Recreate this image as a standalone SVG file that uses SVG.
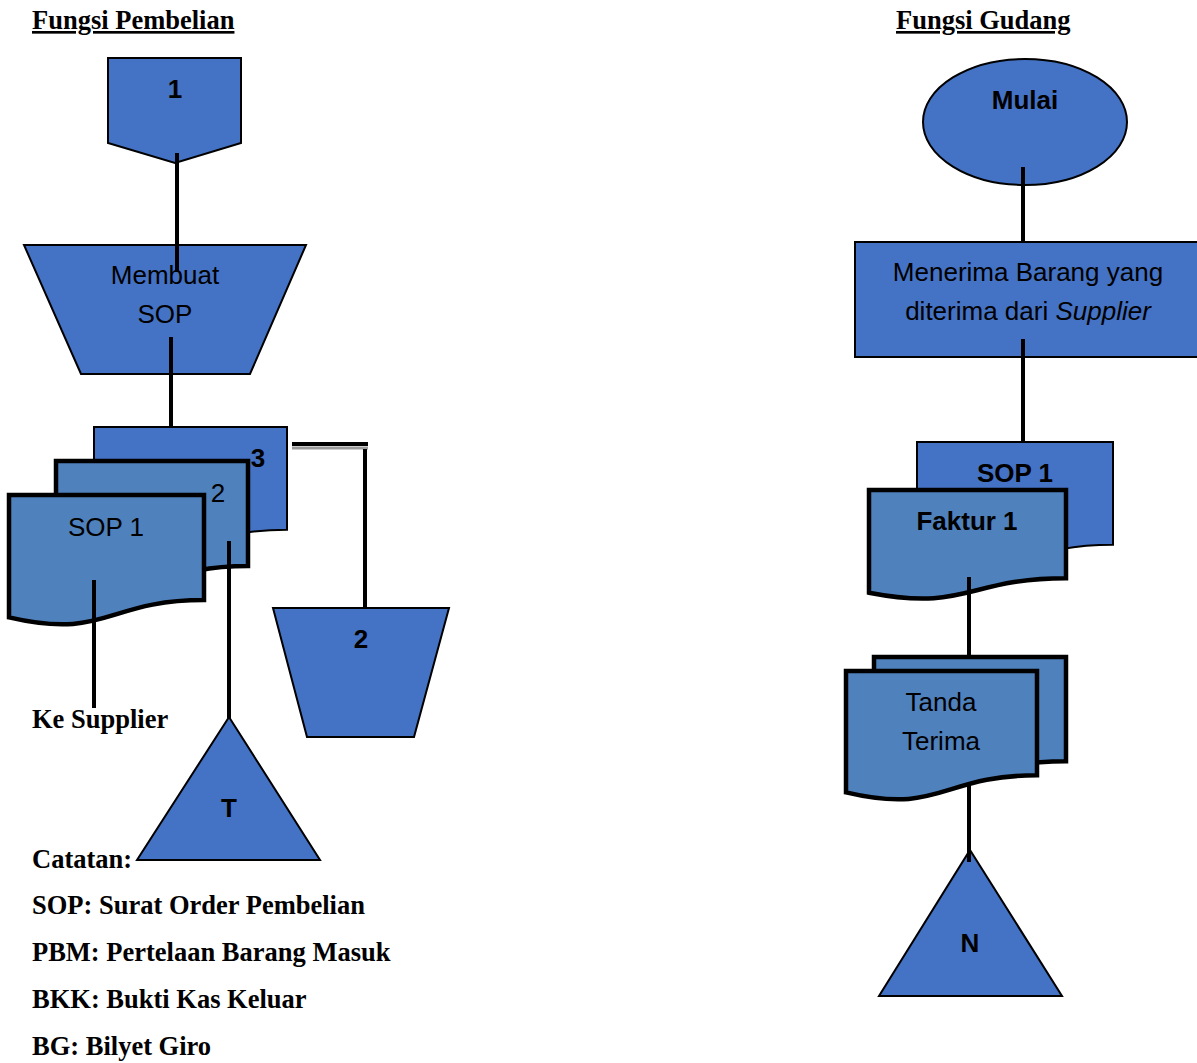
<svg xmlns="http://www.w3.org/2000/svg" width="1197" height="1063" viewBox="0 0 1197 1063">
<style>
.dk{fill:#4472C4;stroke:#000;stroke-width:2}
.lt{fill:#4F81BD;stroke:#000;stroke-width:4.5}
.c{font-family:"Liberation Sans",Arial,sans-serif;font-size:26px;fill:#000;text-anchor:middle}
.b{font-weight:bold}
.s{font-family:"Liberation Serif","Times New Roman",serif;font-size:26.5px;font-weight:bold;fill:#000}
.ln{stroke:#000;stroke-width:4;fill:none}
</style>
<rect width="1197" height="1063" fill="#fff"/>
<g id="titles">
<text class="s" x="32" y="29" text-decoration="underline">Fungsi Pembelian</text>
<text class="s" x="896" y="29" text-decoration="underline">Fungsi Gudang</text>
</g>
<g id="n1"><polygon class="dk" points="108,58 241,58 241,143 175,163 108,143"/><text class="c b" x="175" y="98" font-size="24">1</text></g>
<g id="membuat"><polygon class="dk" points="24,245 306,245 250,374 81,374"/><text class="c" x="165" y="284">Membuat</text><text class="c" x="165" y="323">SOP</text></g>
<g id="doc3"><path class="dk" d="M94,427 H287 V529.7 C190.5,529.7 190.5,568.8 94,546.6 Z"/><text class="c b" x="258" y="467" font-size="24">3</text></g>
<g id="doc2"><path class="lt" d="M56,461 H248 V566.1 C152,566.1 152,606.1 56,583.4 Z"/><text class="c" x="218" y="502">2</text></g>
<g id="sop1"><path class="lt" d="M9,495 H204 V600.1 C106.5,600.1 106.5,640.1 9,617.4 Z"/><text class="c" x="106" y="536">SOP 1</text></g>
<g id="n2"><polygon class="dk" points="273,608 449,608 414,737 307,737"/><text class="c b" x="361" y="648" font-size="24">2</text></g>
<g id="kesupplier"><text class="s" x="32" y="728">Ke Supplier</text></g>
<g id="tT"><polygon class="dk" points="229,717 320,860 137,860"/><text class="c b" x="229" y="817" font-size="24">T</text></g>
<g id="catatan">
<text class="s" x="32" y="868">Catatan:</text>
<text class="s" x="32" y="914">SOP: Surat Order Pembelian</text>
<text class="s" x="32" y="961">PBM: Pertelaan Barang Masuk</text>
<text class="s" x="32" y="1008">BKK: Bukti Kas Keluar</text>
<text class="s" x="32" y="1055">BG: Bilyet Giro</text>
</g>
<g id="mulai"><ellipse class="dk" cx="1025" cy="122" rx="102" ry="63"/><text class="c b" x="1025" y="109" font-size="25">Mulai</text></g>
<g id="menerima"><rect class="dk" x="855" y="242" width="345" height="115"/><text class="c" x="1028" y="281">Menerima Barang yang</text><text class="c" x="1028" y="320">diterima dari <tspan font-style="italic">Supplier</tspan></text></g>
<g id="sop1b"><path class="dk" d="M917,442 H1113 V544.7 C1015,544.7 1015,583.8 917,561.6 Z"/><text class="c b" x="1015" y="482" font-size="25">SOP 1</text></g>
<g id="faktur"><path class="lt" d="M869,490 H1066 V578.2 C967.5,578.2 967.5,611.8 869,592.7 Z"/><text class="c b" x="967" y="530" font-size="25">Faktur 1</text></g>
<g id="tanda"><path class="lt" d="M874,657 H1066 V761.3 C970,761.3 970,801 874,778.4 Z"/><path class="lt" d="M846,671 H1037 V775.3 C941.5,775.3 941.5,815 846,792.4 Z"/><text class="c" x="941" y="711">Tanda</text><text class="c" x="941" y="750">Terima</text></g>
<g id="tN"><polygon class="dk" points="970,850 1062,996 879,996" stroke-width="3.5" fill="#4F81BD"/><text class="c b" x="970" y="952" font-size="24">N</text></g>
<g id="connectors">
<line class="ln" x1="177" y1="153" x2="177" y2="272"/>
<line class="ln" x1="171" y1="337" x2="171" y2="428"/>
<line class="ln" x1="94" y1="580" x2="94" y2="708"/>
<line class="ln" x1="229" y1="541" x2="229" y2="718"/>
<line x1="292" y1="448" x2="368" y2="448" stroke="#999" stroke-width="3"/>
<line class="ln" x1="292" y1="444" x2="368" y2="444"/>
<line class="ln" x1="365" y1="449" x2="365" y2="608"/>
<line class="ln" x1="1023" y1="167" x2="1023" y2="242"/>
<line class="ln" x1="1023" y1="339" x2="1023" y2="442"/>
<line class="ln" x1="969" y1="577" x2="969" y2="657"/>
<line class="ln" x1="969" y1="785" x2="969" y2="862"/>
</g>
</svg>
